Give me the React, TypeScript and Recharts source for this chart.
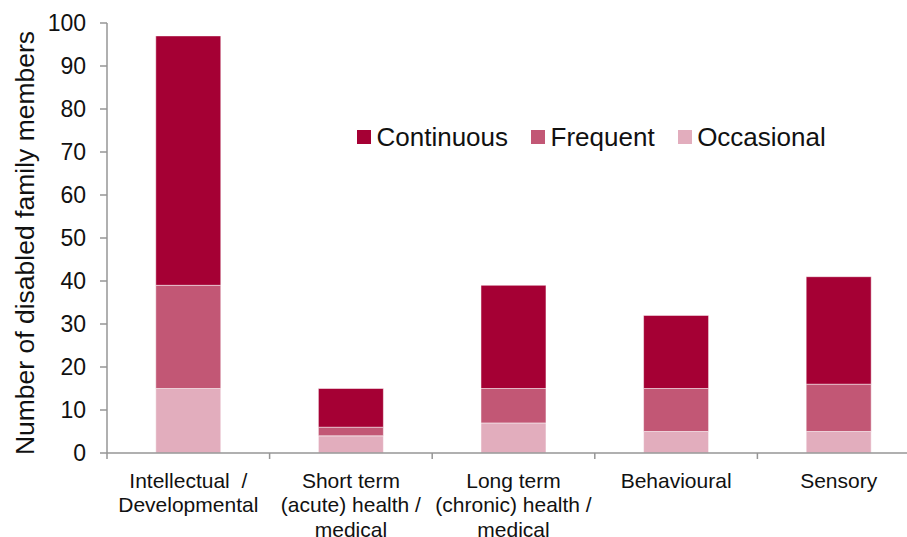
import React from 'react';
import { BarChart, Bar, XAxis, YAxis, Legend } from 'recharts';

const categories = [
  'Intellectual \u00a0/\nDevelopmental',
  'Short term\n(acute) health /\nmedical',
  'Long term\n(chronic) health /\nmedical',
  'Behavioural',
  'Sensory',
];
const occasional = [15, 4, 7, 5, 5];
const frequent = [24, 2, 8, 10, 11];
const continuous = [58, 9, 24, 17, 25];
const yTicks = [0, 10, 20, 30, 40, 50, 60, 70, 80, 90, 100];

const FONT = '"Liberation Sans", Arial, Helvetica, sans-serif';
const AXIS = '#969696';
const TEXT = '#111';

// chart is a bit wider than the viewport: the plot runs off the right edge like the source
const CHART_W = 925;
const CHART_H = 537;
const Y_W = 107;
const M_RIGHT = 5;
const HALF_BAND = (CHART_W - M_RIGHT - Y_W) / categories.length / 2;

const series = [
  { key: 'Continuous', color: '#A50034' },
  { key: 'Frequent', color: '#C25775' },
  { key: 'Occasional', color: '#E2ADBD' },
];

const data = categories.map((name, i) => ({
  name,
  Occasional: occasional[i],
  Frequent: frequent[i],
  Continuous: continuous[i],
}));

const XTick = (props: any) => {
  const { x, y, payload } = props;
  const lines = String(payload.value).split('\n');
  return (
    <g>
      <line x1={x - HALF_BAND} x2={x - HALF_BAND} y1={y} y2={y + 6} stroke={AXIS} strokeWidth={1.5} />
      <text textAnchor="middle" fontSize={21} fontFamily={FONT} fill={TEXT}>
        {lines.map((l, i) => (
          <tspan key={i} x={x} y={y + 34.5 + i * 24.5}>
            {l}
          </tspan>
        ))}
      </text>
    </g>
  );
};

const YLabel = () => (
  <text
    x={33.5}
    y={243}
    transform="rotate(-90 33.5 243)"
    textAnchor="middle"
    fontSize={26.5}
    fontFamily={FONT}
    fill={TEXT}
  >
    Number of disabled family members
  </text>
);

const LegendContent = () => (
  <div style={{ display: 'flex', alignItems: 'center', fontSize: 26, fontFamily: FONT, color: TEXT, lineHeight: '30px' }}>
    {series.map((s, i) => (
      <div key={s.key} style={{ display: 'flex', alignItems: 'center', marginRight: i < series.length - 1 ? 23 : 0 }}>
        <span style={{ display: 'inline-block', width: 14, height: 14, background: s.color, marginRight: 5.5 }} />
        <span>{s.key}</span>
      </div>
    ))}
  </div>
);

export default function App() {
  return (
    <div style={{ position: 'absolute', left: 0, top: 0, width: 907, height: 537, overflow: 'hidden', background: '#fff' }}>
      <BarChart
        width={CHART_W}
        height={CHART_H}
        data={data}
        margin={{ top: 23, right: M_RIGHT, bottom: 0, left: 0 }}
        barCategoryGap="30%"
      >
        <XAxis
          dataKey="name"
          height={84}
          interval={0}
          tickLine={false}
          tickSize={0}
          tickMargin={0}
          axisLine={{ stroke: AXIS, strokeWidth: 1.5 }}
          tick={<XTick />}
        />
        <YAxis
          width={Y_W}
          domain={[0, 100]}
          ticks={yTicks}
          interval={0}
          tickSize={7}
          tickMargin={14}
          axisLine={{ stroke: AXIS, strokeWidth: 1.5 }}
          tickLine={{ stroke: AXIS, strokeWidth: 1.5 }}
          tick={{ fontSize: 23, fontFamily: FONT, fill: TEXT }}
          label={<YLabel />}
        />
        <Legend
          layout="horizontal"
          verticalAlign="middle"
          align="center"
          content={<LegendContent />}
          wrapperStyle={{ left: 357, top: 122, right: 'auto', bottom: 'auto', width: 'auto', height: 'auto' }}
        />
        <Bar dataKey="Occasional" stackId="a" fill="#E2ADBD" stroke="#fff" strokeWidth={0.5} isAnimationActive={false} />
        <Bar dataKey="Frequent" stackId="a" fill="#C25775" stroke="#fff" strokeWidth={0.5} isAnimationActive={false} />
        <Bar dataKey="Continuous" stackId="a" fill="#A50034" stroke="#fff" strokeWidth={0.5} isAnimationActive={false} />
      </BarChart>
    </div>
  );
}
